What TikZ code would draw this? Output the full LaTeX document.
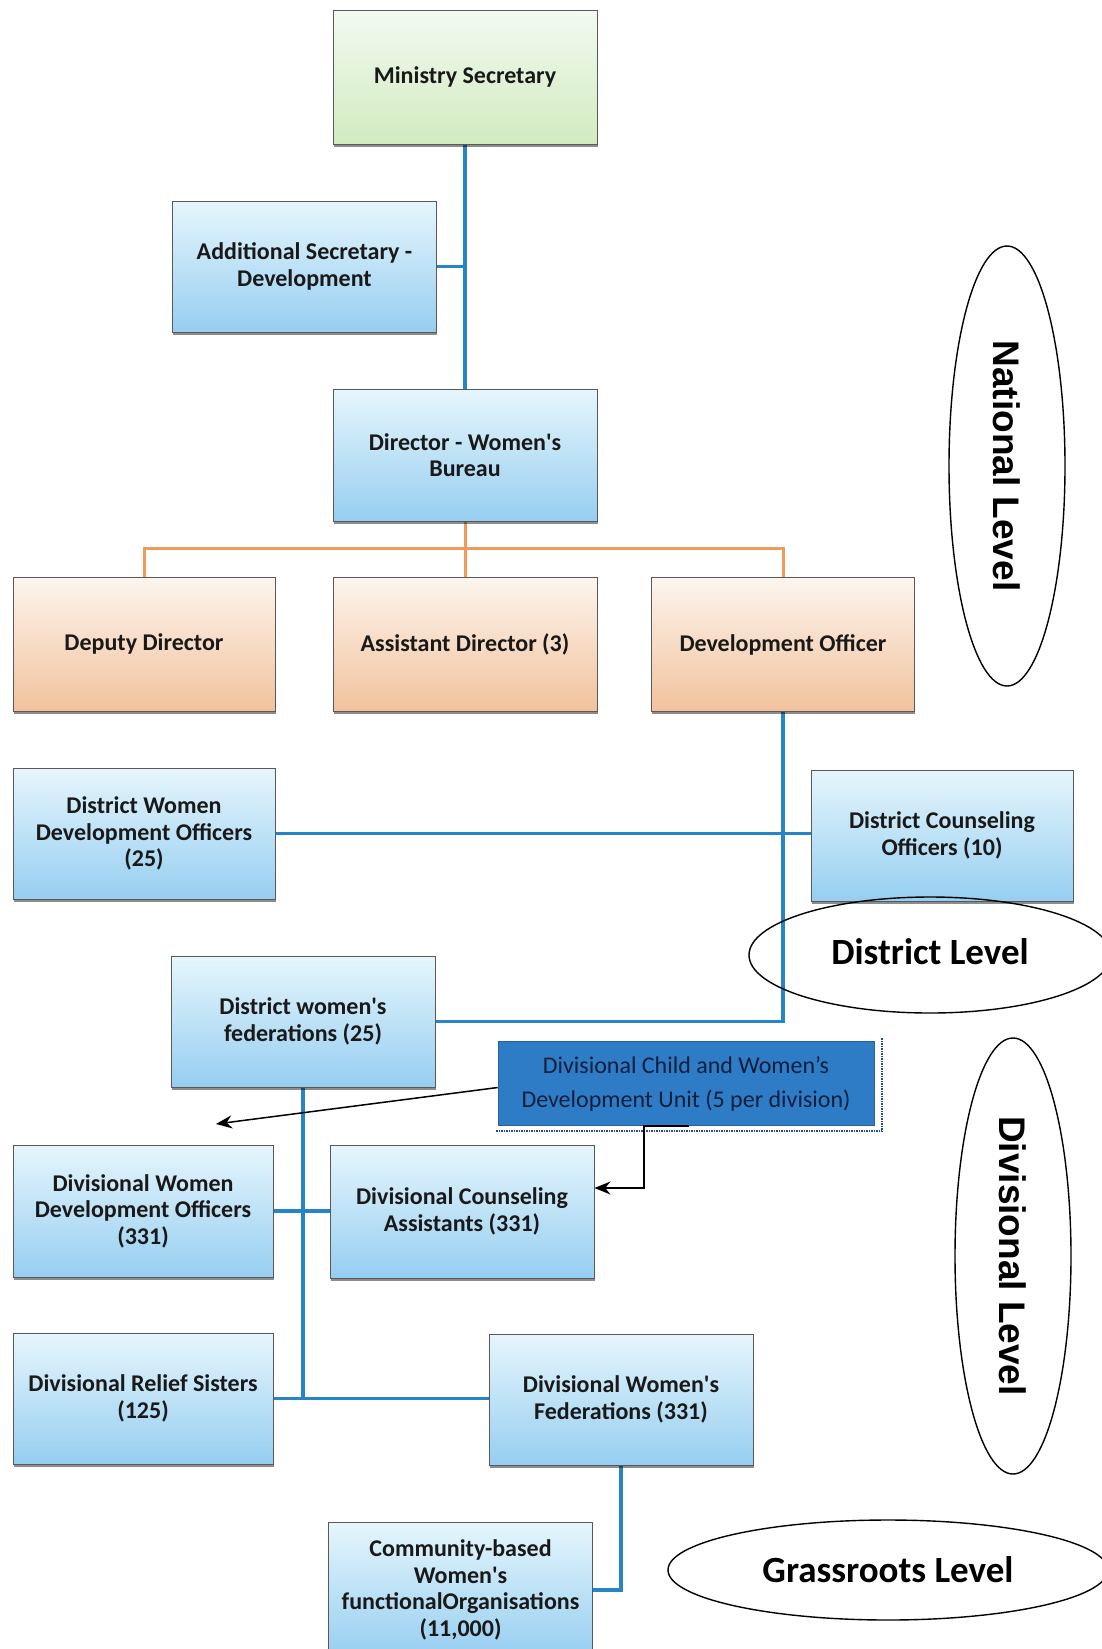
\documentclass[tikz,border=0pt]{standalone}
\usepackage{fontspec}
\setmainfont{Carlito}
\newfontfamily\lvlfont{Liberation Sans}
\usetikzlibrary{shapes.geometric,shadows,arrows.meta,backgrounds}
\definecolor{bTop}{HTML}{E6F6FC}
\definecolor{bBot}{HTML}{96CEF1}
\definecolor{gTop}{HTML}{F3FAF1}
\definecolor{gBot}{HTML}{D1EBC0}
\definecolor{oTop}{HTML}{FCF5EE}
\definecolor{oBot}{HTML}{F2C29C}
\definecolor{cBlue}{HTML}{2585C6}
\definecolor{cOrange}{HTML}{F29A5A}
\definecolor{unitFill}{HTML}{2F7CC6}
\definecolor{unitText}{HTML}{0E1F3E}
\definecolor{unitEdge}{HTML}{1F4E8C}
\newcommand\apo{\textquotesingle}
\begin{document}
\begin{tikzpicture}[x=1pt,y=-1pt,
  box/.style={rectangle, draw=black!65, line width=0.9pt, align=center,
    font=\fontsize{24}{26.5}\selectfont\bfseries, text=black!90,
    minimum width=264pt, minimum height=132pt, inner sep=2pt,
    drop shadow={shadow xshift=0.6pt, shadow yshift=-2.5pt, opacity=0.45, fill=black}},
  bluebox/.style={box, top color=bTop, bottom color=bBot},
  greenbox/.style={box, top color=gTop, bottom color=gBot},
  orangebox/.style={box, top color=oTop, bottom color=oBot},
  unitbox/.style={rectangle, fill=unitFill, draw=unitFill!80!black, line width=0.6pt,
    align=center, text=unitText, font=\fontsize{24}{34}\selectfont,
    minimum width=376pt, minimum height=84pt, inner sep=2pt},
  bconn/.style={draw=cBlue, line width=3.8pt},
  oconn/.style={draw=cOrange, line width=3pt},
  arr/.style={draw=black, line width=1.5pt, -{Stealth[length=16pt,width=13pt]}},
  lvl/.style={ellipse, draw=black, line width=1.4pt, inner sep=0pt},
  lvlA/.style={lvl, font=\lvlfont\fontsize{37}{40}\selectfont\bfseries},
  lvlC/.style={lvl, font=\fontsize{37}{40}\selectfont\bfseries}
]
\clip (0,0) rectangle (1102,1649);

% boxes
\node[greenbox, minimum height=134pt] (ms) at (465,77) {Ministry Secretary};
\node[bluebox, minimum height=131pt] (as) at (304.5,266.5) {Additional Secretary -\\Development};
\node[bluebox] (dir) at (465,455) {Director - Women\apo s\\Bureau};
\node[orangebox, minimum width=262pt, minimum height=134pt] (dd) at (144,644) {Deputy Director};
\node[orangebox, minimum height=134pt] (ad) at (465,644) {Assistant Director (3)};
\node[orangebox, minimum width=263pt, minimum height=134pt] (do) at (783,644.5) {Development Officer};
\node[bluebox, minimum width=262pt, minimum height=131pt] (dwdo) at (144,833.5) {District Women\\Development Officers\\(25)};
\node[bluebox, minimum width=262pt, minimum height=131pt] (dco) at (942,835.5) {District Counseling\\Officers (10)};
\node[bluebox, minimum height=131pt] (dwf) at (303,1021.5) {District women\apo s\\federations (25)};
\node[unitbox] (unit) at (686,1083.5) {Divisional Child and Women’s\\Development Unit (5 per division)};
\node[bluebox, minimum width=260pt] (divwdo) at (143,1211) {Divisional Women\\Development Officers\\(331)};
\node[bluebox, minimum height=133pt] (dca) at (462,1211.5) {Divisional Counseling\\Assistants (331)};
\node[bluebox, minimum width=260pt, minimum height=131pt] (drs) at (143,1398.5) {Divisional Relief Sisters\\(125)};
\node[bluebox, minimum height=131pt] (dwfed) at (621,1399.5) {Divisional Women\apo s\\Federations (331)};
\node[bluebox, minimum height=136pt] (cbo) at (460.5,1590) {Community-based\\Women\apo s\\functionalOrganisations\\(11,000)};

% connectors behind boxes
\begin{scope}[on background layer]
\fill[white] (0,0) rectangle (1102,1649);
\draw[bconn] (ms.south) -- (dir.north);
\draw[bconn] (as.east) -- (as.east -| ms.south);
\coordinate (obus) at (465,548);
\draw[oconn] (dir.south) -- (ad.north);
\draw[oconn] (dd.north) |- (obus) -| (do.north);
\draw[bconn] (do.south) |- (dwf.east);
\draw[bconn] (dwdo.east) -- (dwdo.east -| dco.west);
\draw[bconn] (dwf.south) -- (dwf.south |- dwfed.west);
\draw[bconn] (drs.east) -- (drs.east -| dwfed.west);
\draw[bconn] (divwdo.east) -- (divwdo.east -| dca.west);
\draw[bconn] (dwfed.south) |- (cbo.east);
\end{scope}

% unit box shadow edge
\draw[unitEdge, line width=2.6pt, dash pattern=on 1.5pt off 1pt] (496,1131) -- (882,1131) -- (882,1038);

% arrows from unit
\coordinate (a1) at (216,1124);
\draw[arr] (unit.west) ++(0,4) -- (a1);
\coordinate (u1) at (689,1126);
\coordinate (k) at (644,1188);
\draw[arr] (u1) -| (k) -- (k -| dca.east);

% level ellipses
\node[lvlA, rotate=-90, minimum width=440pt, minimum height=116pt] (nat) at (1007,466) {National Level};
\node[lvlC, minimum width=362pt, minimum height=116pt] (dist) at (930,955) {\raisebox{6pt}{District Level}};
\node[lvlA, rotate=-90, minimum width=436pt, minimum height=116pt] (div) at (1013,1256) {Divisional Level};
\node[lvlC, minimum width=440pt, minimum height=100pt] (grass) at (888,1570) {Grassroots Level};
\end{tikzpicture}
\end{document}
